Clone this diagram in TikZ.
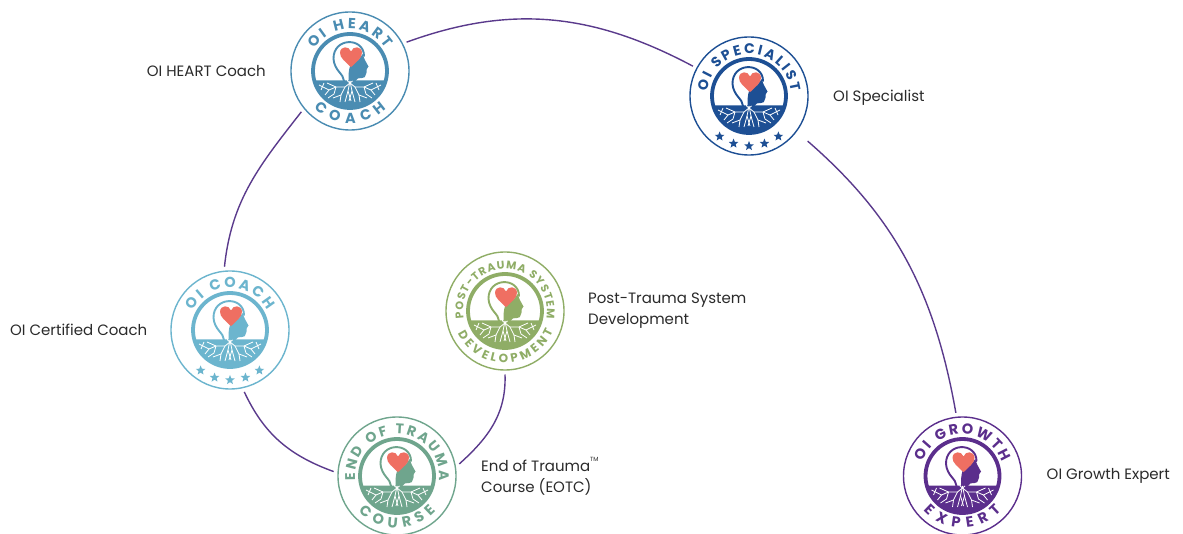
\documentclass[tikz,border=0pt]{standalone}
\usepackage{fontspec}
\setmainfont{Poppins}
\usetikzlibrary{positioning,shapes.geometric,decorations.text}
\definecolor{heartred}{HTML}{EF6F62}
\definecolor{linkpurple}{HTML}{5A3A8C}
\definecolor{labelgray}{HTML}{2A2A2A}
\definecolor{heartblue}{HTML}{4A8CB2}
\definecolor{specblue}{HTML}{1D4F94}
\definecolor{coachblue}{HTML}{6CB5CE}
\definecolor{postgreen}{HTML}{8FAD66}
\definecolor{eotgreen}{HTML}{6FA58D}
\definecolor{growthpurple}{HTML}{5B2E8C}
\tikzset{
  badge/.style = {shape=circle, draw, line width=1.4pt, fill=white,
                  minimum size=118pt, inner sep=0pt, outer sep=4.5pt},
  info/.style  = {align=left, text=labelgray, inner sep=0pt,
                  font=\fontsize{15}{21}\selectfont},
  link/.style  = {line width=1.4pt, linkpurple},
  root/.style  = {draw=white, line width=0.8pt, line join=round},
  tinystar/.style = {shape=star, star points=5, star point ratio=2.3,
                     minimum size=10pt, inner sep=0pt},
}
% head, heart and roots inside a badge
\newcommand{\oimark}[2]{
  \begin{scope}[shift={(#1.center)}]
    \draw[#2, line width=3.8pt] (0,0) circle (37);
    \fill[#2] (-36,-9.5) arc[start angle=195, end angle=345, radius=37.3] -- cycle;
    \fill[#2] (12.7,17) .. controls (14,12) and (16,9) .. (18.5,4.5)
      .. controls (18,3) and (16.5,2.5) .. (16.5,1) .. controls (17,-1) and (16.5,-2) .. (16,-3)
      .. controls (16,-6) and (14,-7) .. (12,-7) .. controls (9,-7) and (6.5,-7) .. (5.5,-10)
      -- (-1.5,-10) .. controls (-1.5,-4) and (-1.5,0) .. (0,5) -- (9,12) -- cycle;
    \draw[#2, line width=1.9pt, line cap=round] (-6,-10) .. controls (-6,-3) and (-15.5,0)
      .. (-16.5,12) .. controls (-17,34) and (14,34) .. (14,15);
    \fill[heartred] (1,3.8) .. controls (-4,9) and (-10.5,13) .. (-10,18.5)
      .. controls (-9.5,25) and (-1,25.5) .. (1,19.5)
      .. controls (3,25.5) and (11.5,25) .. (12,18.5)
      .. controls (12.5,13) and (6,9) .. (1,3.8) -- cycle;
    \draw[root] (-3,4) .. controls (-3,0) and (-2.5,-4) .. (-2.5,-10);
    \foreach \side in {1,-1}{
      \begin{scope}[xscale=\side]
        \draw[root] (-2.5,-10) -- (5,-16) -- (14,-16) -- (23,-12);
        \draw[root] (14,-16) -- (21,-19) -- (31,-14);
        \draw[root] (21,-19) -- (25,-24);
        \draw[root] (26,-12) -- (29,-19);
        \draw[root] (5,-16) -- (9,-24) -- (17,-27);
        \draw[root] (9,-24) -- (10,-31);
        \draw[root] (0,-10) -- (2,-20) -- (5,-31);
        \draw[root] (2,-20) -- (-1,-30);
        \draw[root] (14,-16) -- (16,-23) -- (22,-27);
      \end{scope}
    }
  \end{scope}
}
% #2 colour, #3 size, #4 and #5 angles, #6 text
\newcommand{\oitop}[6]{
  \path[shift={(#1.center)}, decorate, decoration={text along path, text align=fit to path,
    text={|\fontsize{#3}{#3}\selectfont\bfseries\color{#2}|#6}}]
    (#4:42) arc[start angle=#4, end angle=#5, radius=42];
}
\newcommand{\oilow}[6]{
  \path[shift={(#1.center)}, decorate, decoration={text along path, text align=fit to path,
    text={|\fontsize{#3}{#3}\selectfont\bfseries\color{#2}|#6}}]
    (#4:52) arc[start angle=#4, end angle=#5, radius=52];
}
\newcommand{\oistars}[2]{
  \foreach \a in {-126,-108,-90,-72,-54}{
    \node[tinystar, fill=#2] (#1-star\a) at ([shift={(\a:50)}]#1.center) {};
  }
}

\begin{document}
\begin{tikzpicture}[x=1pt,y=1pt]
  \useasboundingbox (0,0) rectangle (1183,533);
  \clip (0,0) rectangle (1183,533);

  \node[badge, draw=heartblue]    (heart)  at (350,462)   {};
  \node[badge, draw=specblue]     (spec)   at (749,437)   {};
  \node[badge, draw=coachblue]    (coach)  at (230,203)   {};
  \node[badge, draw=postgreen]    (post)   at (505,222)   {};
  \node[badge, draw=eotgreen]     (eot)    at (397,57)    {};
  \node[badge, draw=growthpurple] (growth) at (962.5,57)  {};

  \oimark{heart}{heartblue}
  \oimark{spec}{specblue}
  \oimark{coach}{coachblue}
  \oimark{post}{postgreen}
  \oimark{eot}{eotgreen}
  \oimark{growth}{growthpurple}

  \oitop{heart}{heartblue}{14.5}{148}{32}{OI HEART}
  \oilow{heart}{heartblue}{14.5}{226}{314}{COACH}
  \oitop{spec}{specblue}{14}{174}{6}{OI SPECIALIST}
  \oitop{coach}{coachblue}{14.5}{152}{28}{OI COACH}
  \oitop{post}{postgreen}{11}{190}{-10}{POST-TRAUMA SYSTEM}
  \oilow{post}{postgreen}{12}{205}{337}{DEVELOPMENT}
  \oitop{eot}{eotgreen}{14}{186}{-6}{END OF TRAUMA}
  \oilow{eot}{eotgreen}{14.5}{222}{318}{COURSE}
  \oitop{growth}{growthpurple}{14.5}{160}{20}{OI GROWTH}
  \oilow{growth}{growthpurple}{14.5}{222}{318}{EXPERT}
  \oistars{spec}{specblue}
  \oistars{coach}{coachblue}

  \node[info, left=20.5pt of heart]   (heartinfo)  {OI HEART Coach};
  \node[info, right=20.5pt of spec, yshift=-2pt] (specinfo) {OI Specialist};
  \node[info, left=19pt of coach]     (coachinfo)  {OI Certified Coach};
  \node[info, right=19.5pt of post]   (postinfo)   {Post-Trauma System\\Development};
  \node[info, right=20.5pt of eot]    (eotinfo)    {End of Trauma\raisebox{1.2ex}{\fontsize{6}{6}\selectfont TM}\\Course (EOTC)};
  \node[info, right=20.5pt of growth] (growthinfo) {OI Growth Expert};

  \draw[link] (heart.27) to [out=20, in=152] (spec.152);
  \draw[link] (heart.220) to [out=-128, in=84] (coach.95);
  \draw[link] (coach.-77) to [out=-65, in=160] (eot.176);
  \draw[link] (eot.11) to [out=42, in=-88] (post.-90);
  \draw[link, shorten <=10.5pt] (spec.-37) to [out=-41, in=100] (growth.96);
\end{tikzpicture}
\end{document}
